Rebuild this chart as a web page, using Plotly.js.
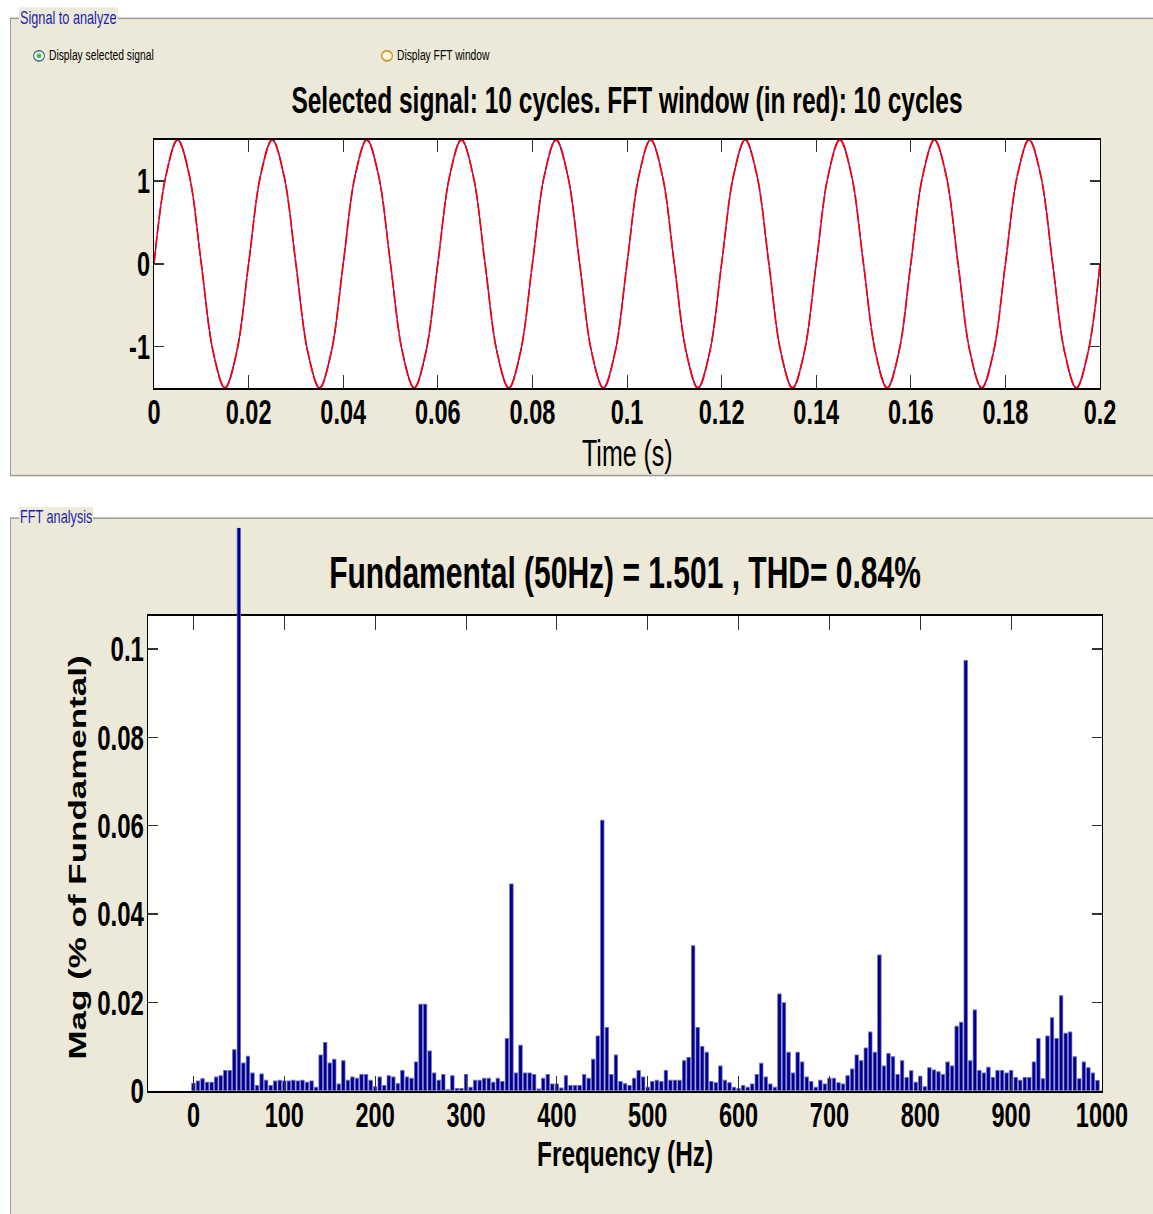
<!DOCTYPE html>
<html>
<head>
<meta charset="utf-8">
<script src="https://cdn.plot.ly/plotly-3.0.1.min.js"></script>
<style>
html,body{margin:0;padding:0;background:#ffffff;overflow:hidden;width:1153px;height:1214px;}
#stage{position:absolute;left:0;top:0;width:1153px;height:826px;transform:scaleY(1.47);transform-origin:0 0;}
.panel{position:absolute;background:#ECE9D8;border:1px solid #9d9d9d;box-sizing:border-box;}
.plabel{position:absolute;background:#ECE9D8;color:#1F1FA8;font-family:'Liberation Sans',Arial,sans-serif;font-size:12.7px;line-height:14px;padding:0 1px;white-space:nowrap;}
.radio{position:absolute;width:12px;height:8.2px;border-radius:50%;box-sizing:border-box;}
.rlabel{position:absolute;font-family:'Liberation Sans',Arial,sans-serif;font-size:10.3px;line-height:12px;color:#000;white-space:nowrap;}
#sig{position:absolute;left:0;top:0;width:1153px;height:330px;}
#fft{position:absolute;left:0;top:358.5px;width:1153px;height:467.5px;}
</style>
</head>
<body>
<div id="stage">
  <div class="panel" style="left:10px;top:12.2px;width:1160px;height:311.6px;"></div>
  <div class="plabel" style="left:19px;top:5.2px;">Signal to analyze</div>
  <div class="radio" style="left:33px;top:34px;border:1px solid #3a6290;background:radial-gradient(ellipse at center,#22b022 0,#3cc03c 28%,#ffffff 42%,#e8e8e0 100%);"></div>
  <div class="rlabel" style="left:49px;top:32.1px;">Display selected signal</div>
  <div class="radio" style="left:381px;top:34px;border:1px solid #b88a30;background:radial-gradient(ellipse at center,#ffffff 0,#fff6d8 45%,#f6c866 90%);"></div>
  <div class="rlabel" style="left:397px;top:32.1px;">Display FFT window</div>

  <div class="panel" style="left:10px;top:352.4px;width:1160px;height:520px;"></div>
  <div class="plabel" style="left:19px;top:345.4px;">FFT analysis</div>

  <div id="sig"></div>
  <div id="fft"></div>
</div>
<script>
// ---------- Signal to analyze ----------
const timeS = [0,0.0025,0.005,0.0075,0.01,0.0125,0.015,0.0175,0.02,0.0225,0.025,0.0275,0.03,0.0325,0.035,0.0375,0.04,0.0425,0.045,0.0475,0.05,0.0525,0.055,0.0575,0.06,0.0625,0.065,0.0675,0.07,0.0725,0.075,0.0775,0.08,0.0825,0.085,0.0875,0.09,0.0925,0.095,0.0975,0.1,0.1025,0.105,0.1075,0.11,0.1125,0.115,0.1175,0.12,0.1225,0.125,0.1275,0.13,0.1325,0.135,0.1375,0.14,0.1425,0.145,0.1475,0.15,0.1525,0.155,0.1575,0.16,0.1625,0.165,0.1675,0.17,0.1725,0.175,0.1775,0.18,0.1825,0.185,0.1875,0.19,0.1925,0.195,0.1975,0.2];
const signalV = [0,1.06,1.5,1.06,0,-1.06,-1.5,-1.06,
 0,1.06,1.5,1.06,0,-1.06,-1.5,-1.06,
 0,1.06,1.5,1.06,0,-1.06,-1.5,-1.06,
 0,1.06,1.5,1.06,0,-1.06,-1.5,-1.06,
 0,1.06,1.5,1.06,0,-1.06,-1.5,-1.06,
 0,1.06,1.5,1.06,0,-1.06,-1.5,-1.06,
 0,1.06,1.5,1.06,0,-1.06,-1.5,-1.06,
 0,1.06,1.5,1.06,0,-1.06,-1.5,-1.06,
 0,1.06,1.5,1.06,0,-1.06,-1.5,-1.06,
 0,1.06,1.5,1.06,0,-1.06,-1.5,-1.06,
 0];
const windowV = signalV.slice();
const timeTicks = [0,0.02,0.04,0.06,0.08,0.1,0.12,0.14,0.16,0.18,0.2];
const timeTickText = ["0","0.02","0.04","0.06","0.08","0.1","0.12","0.14","0.16","0.18","0.2"];
const sigTicks = [-1,0,1];
const sigTickText = ["-1","0","1"];
const sigTitle = "Selected signal: 10 cycles. FFT window (in red): 10 cycles";
const timeTitle = "Time (s)";

// ---------- FFT analysis ----------
const freqHz = [0,5,10,15,20,25,30,35,40,45,50,55,60,65,70,75,80,85,90,95,
 100,105,110,115,120,125,130,135,140,145,150,155,160,165,170,175,180,185,190,195,
 200,205,210,215,220,225,230,235,240,245,250,255,260,265,270,275,280,285,290,295,
 300,305,310,315,320,325,330,335,340,345,350,355,360,365,370,375,380,385,390,395,
 400,405,410,415,420,425,430,435,440,445,450,455,460,465,470,475,480,485,490,495,
 500,505,510,515,520,525,530,535,540,545,550,555,560,565,570,575,580,585,590,595,
 600,605,610,615,620,625,630,635,640,645,650,655,660,665,670,675,680,685,690,695,
 700,705,710,715,720,725,730,735,740,745,750,755,760,765,770,775,780,785,790,795,
 800,805,810,815,820,825,830,835,840,845,850,855,860,865,870,875,880,885,890,895,
 900,905,910,915,920,925,930,935,940,945,950,955,960,965,970,975,980,985,990,995,
 1000];
const magPct = [0.0017,0.0022,0.0027,0.0019,0.0019,0.0031,0.0034,0.0046,0.0046,0.0093,
 100,0.0063,0.0078,0.0040,0.0012,0.0038,0.0024,0.0012,0.0022,0.0024,
 0.0022,0.0022,0.0024,0.0022,0.0024,0.0019,0.0022,0.0008,0.0081,0.0109,
 0.0063,0.0071,0.0015,0.0068,0.0024,0.0031,0.0028,0.0037,0.0037,0.0024,
 0.0009,0.0031,0.0012,0.0034,0.0031,0.0016,0.0046,0.0031,0.0028,0.0065,
 0.0196,0.0196,0.0090,0.0040,0.0024,0.0037,0.0002,0.0034,0.0005,0.0005,
 0.0037,0.0008,0.0024,0.0024,0.0028,0.0028,0.0019,0.0028,0.0021,0.0118,
 0.0468,0.0040,0.0103,0.0040,0.0040,0.0037,0.0004,0.0028,0.0037,0.0015,
 0.0015,0.0006,0.0034,0.0012,0.0012,0.0012,0.0037,0.0028,0.0071,0.0124,
 0.0612,0.0143,0.0037,0.0081,0.0021,0.0016,0.0012,0.0028,0.0046,0.0031,
 0.0008,0.0021,0.0024,0.0021,0.0046,0.0024,0.0024,0.0024,0.0068,0.0075,
 0.0328,0.0143,0.0100,0.0087,0.0021,0.0018,0.0056,0.0024,0.0018,0.0008,
 0.0005,0.0012,0.0008,0.0015,0.0037,0.0062,0.0031,0.0015,0.0008,0.0219,
 0.0199,0.0087,0.0040,0.0087,0.0065,0.0031,0.0021,0.0008,0.0024,0.0015,
 0.0028,0.0028,0.0018,0.0015,0.0034,0.0049,0.0081,0.0068,0.0097,0.0133,
 0.0087,0.0307,0.0056,0.0084,0.0077,0.0037,0.0068,0.0030,0.0045,0.0019,
 0.0033,0.0009,0.0052,0.0047,0.0043,0.0037,0.0065,0.0056,0.0146,0.0155,
 0.0974,0.0068,0.0183,0.0046,0.0040,0.0053,0.0030,0.0046,0.0046,0.0040,
 0.0046,0.0030,0.0024,0.0030,0.0030,0.0065,0.0118,0.0027,0.0124,0.0165,
 0.0118,0.0215,0.0130,0.0133,0.0077,0.0027,0.0065,0.0052,0.0040,0.0023,
 0];
const fundamentalHz = 50;
const freqTicks = [0,100,200,300,400,500,600,700,800,900,1000];
const freqTickText = ["0","100","200","300","400","500","600","700","800","900","1000"];
const magTicks = [0,0.02,0.04,0.06,0.08,0.1];
const magTickText = ["0","0.02","0.04","0.06","0.08","0.1"];
const fftTitle = "Fundamental (50Hz) = 1.501 , THD= 0.84%";
const freqTitle = "Frequency (Hz)";
const magTitle = "Mag (% of Fundamental)";

const FONT = "'Liberation Sans', Arial, sans-serif";
const cfg = {staticPlot:true, displayModeBar:false, responsive:false};

function axisBase(len){
  return {
    showline:true, mirror:'ticks', linecolor:'#000', linewidth:1.3,
    ticks:'inside', ticklen:len, tickwidth:1, tickcolor:'#333',
    showgrid:false, zeroline:false,
    tickfont:{family:FONT, size:23.5, color:'#000', weight:'bold'},
    fixedrange:true
  };
}

// top chart
const sigLayout = {
  width:1153, height:330,
  margin:{l:154, r:53, t:95.2, b:66.1, pad:0},
  paper_bgcolor:'rgba(0,0,0,0)', plot_bgcolor:'#ffffff',
  showlegend:false,
  title:{text:sigTitle, font:{family:FONT, size:24.5, color:'#000', weight:'bold'},
         xref:'paper', x:0.5, xanchor:'center', yref:'container', y:1-68/330, yanchor:'middle'},
  xaxis:Object.assign(axisBase(8.6), {range:[0,0.2], tickvals:timeTicks, ticktext:timeTickText, ticklabelstandoff:-5}),
  yaxis:Object.assign(axisBase(10), {range:[-1.5,1.5], tickvals:sigTicks, ticktext:sigTickText, ticklabelstandoff:-2}),
  annotations:[{text:timeTitle, xref:'paper', yref:'paper', x:0.5, y:(263.9-308.2)/168.7,
    xanchor:'center', yanchor:'middle', showarrow:false,
    font:{family:FONT, size:25, color:'#000'}}]
};
Plotly.newPlot('sig', [
  {x:timeS, y:signalV, type:'scatter', mode:'lines', line:{color:'#2020ff', width:1.2, shape:'spline'}, name:'signal'},
  {x:timeS, y:windowV, type:'scatter', mode:'lines', line:{color:'#ff0000', width:1.7, shape:'spline', dash:'9px,1.2px'}, name:'FFT window'}
], sigLayout, cfg);

// bottom chart: harmonics on the framed axes, the fundamental on a taller hidden axis
const harmY = magPct.map((v, i) => freqHz[i] === fundamentalHz ? null : v);
const fundX = freqHz.filter(f => f === fundamentalHz);
const fundY = magPct.filter((v, i) => freqHz[i] === fundamentalHz);
const paperH = 383;                 // plot area height (unstretched px), top at div top
const axesTop = 741.5 - 418.4;      // framed axes height
const yDomTop = axesTop / paperH;
const fftLayout = {
  width:1153, height:467.5,
  margin:{l:148, r:51, t:0, b:84.5, pad:0},
  paper_bgcolor:'rgba(0,0,0,0)', plot_bgcolor:'rgba(0,0,0,0)',
  showlegend:false, bargap:0,
  title:{text:fftTitle, font:{family:FONT, size:30, color:'#000', weight:'bold'},
         xref:'paper', x:0.5, xanchor:'center', yref:'container', y:1-30.6/467.5, yanchor:'middle'},
  xaxis:Object.assign(axisBase(10), {range:[-50,1000], tickvals:freqTicks, ticktext:freqTickText, anchor:'y', ticklabelstandoff:-5}),
  yaxis:Object.assign(axisBase(10), {domain:[0, yDomTop], range:[0,0.1075], tickvals:magTicks, ticktext:magTickText,
    ticklabelstandoff:-2, tickfont:{family:FONT, size:24, color:'#000', weight:'bold'}}),
  yaxis2:{domain:[0,1], range:[0, 0.1075/yDomTop], visible:false, showgrid:false, zeroline:false, fixedrange:true},
  shapes:[{type:'rect', xref:'paper', yref:'y domain', x0:0, x1:1, y0:0, y1:1,
           fillcolor:'#ffffff', line:{width:0}, layer:'below'}],
  annotations:[
    {text:freqTitle, xref:'paper', yref:'paper', x:0.5, y:-(425.2-383)/paperH,
     xanchor:'center', yanchor:'middle', showarrow:false,
     font:{family:FONT, size:24.4, color:'#000', weight:'bold'}},
    {text:magTitle, xref:'paper', yref:'paper', x:(78-148)/954, y:(383-224.8)/paperH,
     xanchor:'center', yanchor:'middle', showarrow:false, textangle:-90,
     font:{family:FONT, size:23.8, color:'#000', weight:'bold'}}
  ]
};
const barStyle = {color:'#00008C', line:{color:'#6a6ac8', width:0.7}};
Plotly.newPlot('fft', [
  {x:freqHz, y:harmY, type:'bar', width:3.8, marker:barStyle, xaxis:'x', yaxis:'y', name:'Harmonics'},
  {x:fundX, y:fundY, type:'bar', width:3.8, marker:barStyle, xaxis:'x', yaxis:'y2', name:'Fundamental'}
], fftLayout, cfg);
</script>
</body>
</html>
